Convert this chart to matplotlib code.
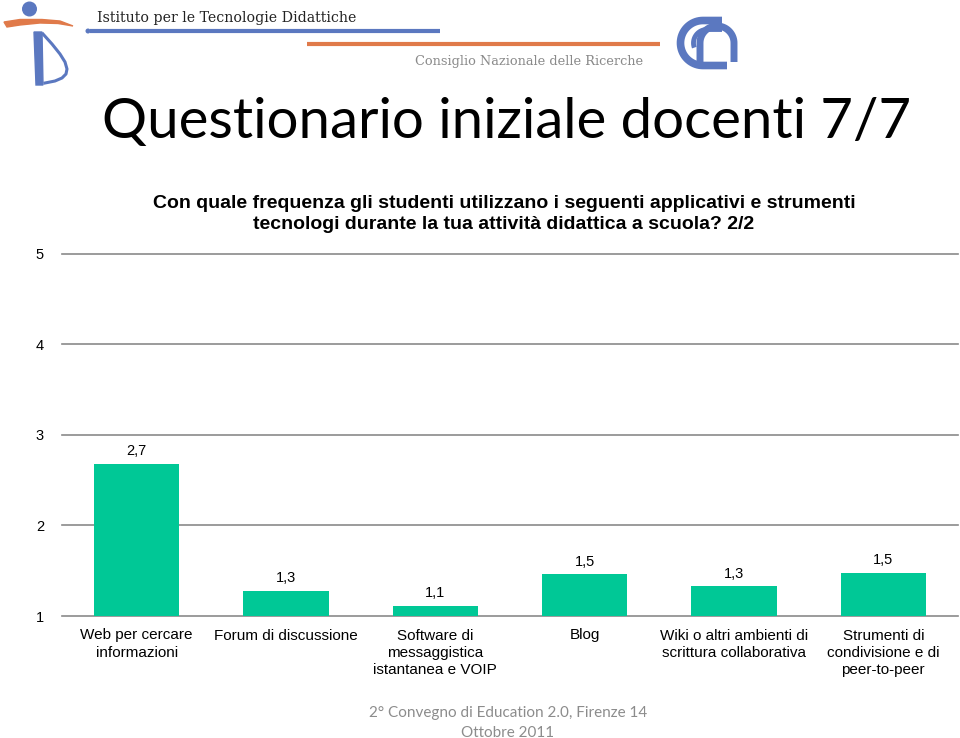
#!/usr/bin/env python3
"""Questionario iniziale docenti 7/7 - frequenza d'uso degli strumenti (2/2)."""

import numpy as np
import matplotlib
matplotlib.use("Agg")
import matplotlib.pyplot as plt
from matplotlib.patches import Circle, Polygon

categories = [
    "Web per cercare\ninformazioni",
    "Forum di discussione",
    "Software di\nmessaggistica\nistantanea e VOIP",
    "Blog",
    "Wiki o altri ambienti di\nscrittura collaborativa",
    "Strumenti di\ncondivisione e di\npeer-to-peer",
]
values = [2.68, 1.28, 1.11, 1.46, 1.33, 1.48]
yticks = [1, 2, 3, 4, 5]

BAR = "#00c896"
GRID = "#8a8a8a"
W, H = 960, 738

fig = plt.figure(figsize=(W / 100, H / 100), dpi=100)

# --- chart ---
ax = fig.add_axes([62 / W, 1 - 616 / H, 896 / W, (616 - 253.5) / H])
x = range(len(categories))
bars = ax.bar(x, [v - 1 for v in values], bottom=1, width=0.57, color=BAR, zorder=3)
ax.set_xlim(-0.5, len(categories) - 0.5)
ax.set_ylim(1, 5)
ax.set_yticks(yticks)
ax.set_yticklabels([str(t) for t in yticks], family="Liberation Sans", fontsize=10.5)
ax.set_xticks(list(x))
ax.set_xticklabels(categories, family="Liberation Sans", fontsize=11, linespacing=1.28)
ax.tick_params(axis="both", length=0)
ax.tick_params(axis="y", pad=13)
ax.tick_params(axis="x", pad=9)
for s in ax.spines.values():
    s.set_visible(False)
for t in yticks:
    ax.axhline(t, color=GRID, lw=1.2, zorder=1, clip_on=False)

for b, v in zip(bars, values):
    ax.annotate(f"{v:.1f}".replace(".", ","),
                (b.get_x() + b.get_width() / 2, v),
                xytext=(0, 4), textcoords="offset points",
                ha="center", va="bottom", fontsize=10.5, family="Liberation Sans")

# --- overlay in pixel coordinates for header / titles / footer ---
ov = fig.add_axes([0, 0, 1, 1], zorder=-1)
ov.set_xlim(0, W)
ov.set_ylim(H, 0)
ov.axis("off")


def arc_pts(cx, cy, r, a0, a1, n=40):
    # angles in degrees, screen-style (y grows downward)
    a = np.radians(np.linspace(a0, a1, n))
    return list(cx + r * np.cos(a)), list(cy - r * np.sin(a))


# ITD logo (approximate)
blue = "#5b78c0"
orange = "#e07a4a"
ov.add_patch(Circle((29.5, 9), 6.8, color=blue))
ov.add_patch(Polygon([(4, 22), (20, 19.5), (42, 19.5), (60, 21), (73, 26),
                      (58, 23.5), (40, 23), (20, 25), (7, 27)],
                     closed=True, color=orange))
ov.add_patch(Polygon([(34, 32), (42, 32), (43, 85), (36, 85)], closed=True, color=blue))
ov.plot([43, 52, 60, 65, 67, 66, 62, 55, 45], [34, 44, 54, 62, 69, 74, 78, 81, 83],
        color=blue, lw=2.2, solid_joinstyle="round")
ov.text(97, 18, "Istituto per le Tecnologie Didattiche", family="DejaVu Serif",
        fontsize=10.2, color="#222222", va="center", ha="left")
ov.add_patch(Circle((88, 31), 1.8, color=blue))
ov.plot([90, 440], [31, 31], color=blue, lw=3, solid_capstyle="butt")
ov.plot([307, 660], [44, 44], color=orange, lw=3, solid_capstyle="butt")
ov.text(415, 62, "Consiglio Nazionale delle Ricerche", family="DejaVu Serif",
        fontsize=9.3, color="#8a8a8a", va="center", ha="left")

# CNR logo (approximate)
xs, ys = arc_pts(703, 43, 22.5, 90, 270)
ov.plot([722] + xs + [727], [20.5] + ys + [65.5], color=blue, lw=5.5,
        solid_capstyle="butt")
xs, ys = arc_pts(707, 43, 13.5, 90, 200)
ov.plot([722] + xs, [29.5] + ys, color=blue, lw=3.5, solid_capstyle="butt")
xs, ys = arc_pts(717, 43, 17, 180, 0)
ov.plot([700] + xs + [734], [62] + ys + [62], color=blue, lw=5,
        solid_capstyle="butt")

# titles
ov.text(507, 122, "Questionario iniziale docenti 7/7", family="Lato",
        fontsize=40.6, color="black", ha="center", va="center")
ov.text(504, 214,
        "Con quale frequenza gli studenti utilizzano i seguenti applicativi e strumenti\n"
        "tecnologi durante la tua attività didattica a scuola? 2/2",
        family="Liberation Sans", fontweight="bold", fontsize=14,
        ha="center", va="center", linespacing=1.3)

# footer
ov.text(508, 723, "2° Convegno di Education 2.0, Firenze 14\nOttobre 2011",
        family="Lato", fontsize=11, color="#8c8c8c", ha="center", va="center",
        linespacing=1.5)

fig.savefig("out.png", dpi=100)
